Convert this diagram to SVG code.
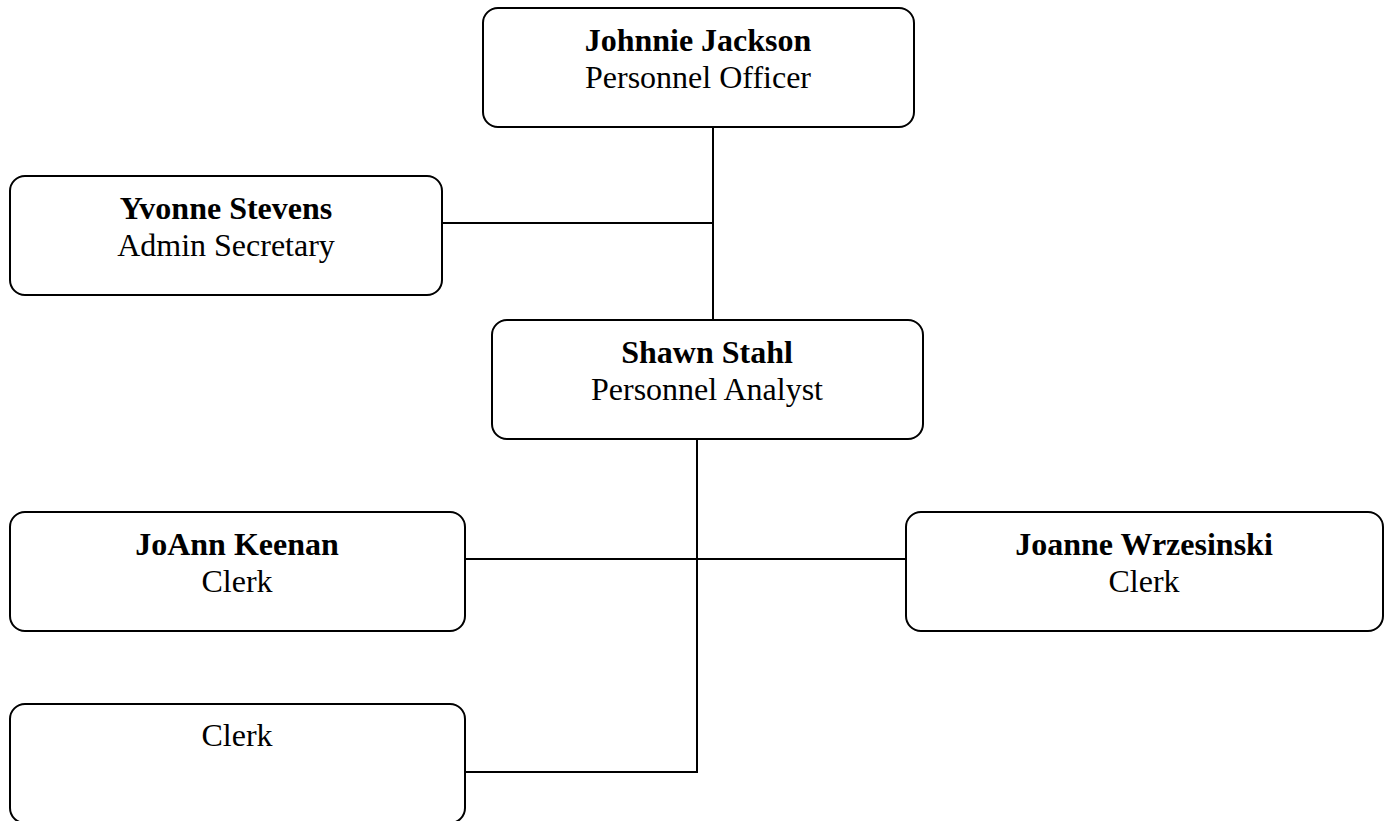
<svg xmlns="http://www.w3.org/2000/svg" width="1390" height="821" viewBox="0 0 1390 821">
<style>
.box{fill:#fff;stroke:#000;stroke-width:2}
.conn{fill:none;stroke:#000;stroke-width:2}
text{font-family:"Liberation Serif","Times New Roman",serif;font-size:32px;fill:#000;text-anchor:middle}
.name{font-weight:bold}
</style>
<rect width="1390" height="821" fill="#fff"/>
<g id="connectors">
<path class="conn" d="M713 127 V319"/>
<path class="conn" d="M443 223 H713"/>
<path class="conn" d="M697 439 V772 H466"/>
<path class="conn" d="M466 559 H906"/>
</g>
<g id="johnnie">
<rect class="box" x="483" y="8" width="431" height="119" rx="15"/>
<text class="name" x="698" y="51">Johnnie Jackson</text>
<text x="698" y="88">Personnel Officer</text>
</g>
<g id="yvonne">
<rect class="box" x="10" y="176" width="432" height="119" rx="15"/>
<text class="name" x="226" y="219">Yvonne Stevens</text>
<text x="226" y="256">Admin Secretary</text>
</g>
<g id="shawn">
<rect class="box" x="492" y="320" width="431" height="119" rx="15"/>
<text class="name" x="707" y="363">Shawn Stahl</text>
<text x="707" y="400">Personnel Analyst</text>
</g>
<g id="joann">
<rect class="box" x="10" y="512" width="455" height="119" rx="15"/>
<text class="name" x="237" y="555">JoAnn Keenan</text>
<text x="237" y="592">Clerk</text>
</g>
<g id="joanne">
<rect class="box" x="906" y="512" width="477" height="119" rx="15"/>
<text class="name" x="1144" y="555">Joanne Wrzesinski</text>
<text x="1144" y="592">Clerk</text>
</g>
<g id="clerk">
<rect class="box" x="10" y="704" width="455" height="119" rx="15"/>
<text x="237" y="746">Clerk</text>
</g>
</svg>
